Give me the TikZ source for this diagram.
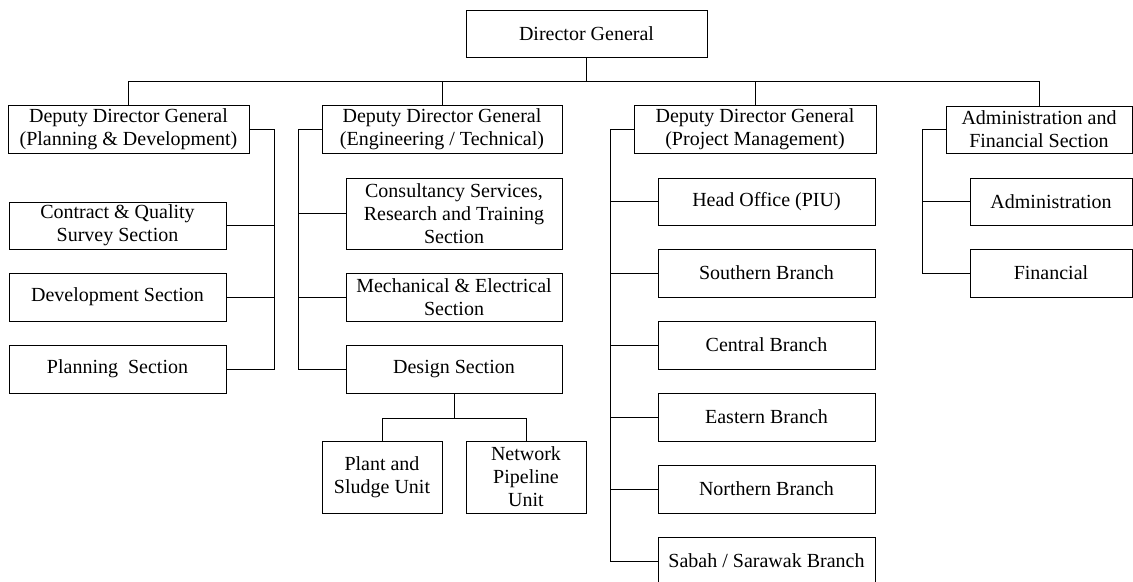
\documentclass[tikz,border=0pt]{standalone}
\usepackage{fontspec}
\setmainfont{Liberation Serif}
\begin{document}
\begin{tikzpicture}[x=0.75pt,y=-0.75pt,
  box/.style={draw,line width=0.7pt,inner sep=0pt,align=center,
    font=\fontsize{15}{17.25}\selectfont},
  conn/.style={line width=0.7pt}]
\useasboundingbox (0,0) rectangle (1133,582);
% top
\node[box,minimum width={241*0.75pt},minimum height={47*0.75pt}] (dg) at (586.5,33.5) {Director General};
\node[box,minimum width={241*0.75pt},minimum height={48*0.75pt}] (ddg1) at (128.5,129) {Deputy Director General\\(Planning \& Development)};
\node[box,minimum width={240*0.75pt},minimum height={48*0.75pt}] (ddg2) at (442,129) {Deputy Director General\\(Engineering / Technical)};
\node[box,minimum width={242*0.75pt},minimum height={48*0.75pt}] (ddg3) at (755,129) {Deputy Director General\\(Project Management)};
\node[box,minimum width={186*0.75pt},minimum height={47*0.75pt}] (adm) at (1039,129.5) {Administration and\\Financial Section};
% column 1
\node[box,minimum width={217*0.75pt},minimum height={47*0.75pt}] (contract) at (117.5,225.5) {Contract \& Quality\\Survey Section};
\node[box,minimum width={217*0.75pt},minimum height={48*0.75pt}] (devel) at (117.5,297) {Development Section};
\node[box,minimum width={217*0.75pt},minimum height={48*0.75pt}] (plan) at (117.5,369) {Planning\ \ Section};
% column 2
\node[box,minimum width={216*0.75pt},minimum height={71*0.75pt}] (consult) at (454,213.5) {Consultancy Services,\\Research and Training\\Section};
\node[box,minimum width={216*0.75pt},minimum height={48*0.75pt}] (mech) at (454,297) {Mechanical \& Electrical\\Section};
\node[box,minimum width={216*0.75pt},minimum height={48*0.75pt}] (design) at (454,369) {Design Section};
\node[box,minimum width={120*0.75pt},minimum height={72*0.75pt}] (plant) at (382,477) {Plant and\\Sludge Unit};
\node[box,minimum width={120*0.75pt},minimum height={72*0.75pt}] (network) at (526,477) {Network\\Pipeline\\Unit};
% column 3
\node[box,minimum width={217*0.75pt},minimum height={47*0.75pt}] (head) at (766.5,201.5) {Head Office (PIU)};
\node[box,minimum width={217*0.75pt},minimum height={48*0.75pt}] (south) at (766.5,273) {Southern Branch};
\node[box,minimum width={217*0.75pt},minimum height={48*0.75pt}] (central) at (766.5,345) {Central Branch};
\node[box,minimum width={217*0.75pt},minimum height={48*0.75pt}] (east) at (766.5,417) {Eastern Branch};
\node[box,minimum width={217*0.75pt},minimum height={48*0.75pt}] (north) at (766.5,489) {Northern Branch};
\node[box,minimum width={217*0.75pt},minimum height={48*0.75pt}] (sabah) at (766.5,561) {Sabah / Sarawak Branch};
% column 4
\node[box,minimum width={162*0.75pt},minimum height={47*0.75pt}] (admin) at (1051,201.5) {Administration};
\node[box,minimum width={162*0.75pt},minimum height={48*0.75pt}] (fin) at (1051,273) {Financial};
% coordinates
\coordinate (bus) at (0,81);
\coordinate (v1) at (274,0);
\coordinate (v2) at (298,0);
\coordinate (v3) at (610,0);
\coordinate (v4) at (922,0);
\coordinate (dbus) at (0,418);
% connectors
\draw[conn] (dg.south) -- (dg.south |- bus);
\draw[conn] (ddg1.north) -- (ddg1.north |- bus) -| (adm.north);
\draw[conn] (ddg2.north) -- (ddg2.north |- bus);
\draw[conn] (ddg3.north) -- (ddg3.north |- bus);
\draw[conn] (ddg1.east) -| (plan.east -| v1) -- (plan.east);
\draw[conn] (contract.east) -- (contract.east -| v1);
\draw[conn] (devel.east) -- (devel.east -| v1);
\draw[conn] (ddg2.west) -| (design.west -| v2) -- (design.west);
\draw[conn] (consult.west) -- (consult.west -| v2);
\draw[conn] (mech.west) -- (mech.west -| v2);
\draw[conn] (design.south) -- (design.south |- dbus);
\draw[conn] (plant.north) -- (plant.north |- dbus) -| (network.north);
\draw[conn] (ddg3.west) -| (sabah.west -| v3) -- (sabah.west);
\draw[conn] (head.west) -- (head.west -| v3);
\draw[conn] (south.west) -- (south.west -| v3);
\draw[conn] (central.west) -- (central.west -| v3);
\draw[conn] (east.west) -- (east.west -| v3);
\draw[conn] (north.west) -- (north.west -| v3);
\draw[conn] (adm.west) -| (fin.west -| v4) -- (fin.west);
\draw[conn] (admin.west) -- (admin.west -| v4);
\end{tikzpicture}
\end{document}
